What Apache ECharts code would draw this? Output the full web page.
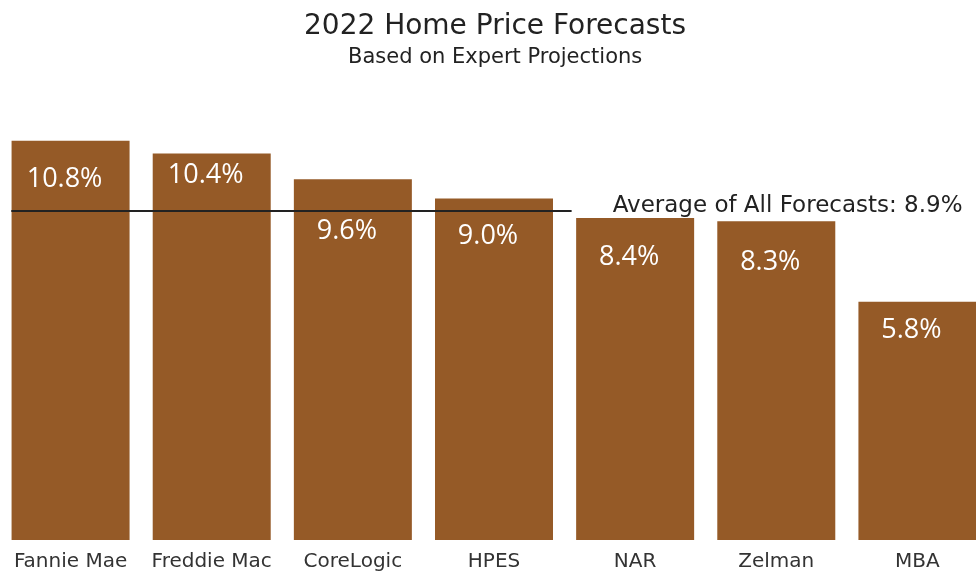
<!DOCTYPE html>
<html>
<head>
<meta charset="utf-8">
<script src="https://cdn.jsdelivr.net/npm/echarts@6/dist/echarts.min.js"></script>
<style>
html,body{margin:0;padding:0;background:#fff}
#main{width:976px;height:571px}
</style>
</head>
<body>
<div id="main"></div>
<script>
var forecasters = ['Fannie Mae', 'Freddie Mac', 'CoreLogic', 'HPES', 'NAR', 'Zelman', 'MBA'];
var forecasts = [10.8, 10.4, 9.6, 9.0, 8.4, 8.3, 5.8];
var chartTitle = '2022 Home Price Forecasts';
var chartSubtitle = 'Based on Expert Projections';
var avgText = 'Average of All Forecasts: 8.9%';
var avgLevel = 8.62; // where the average rule sits on the drawn scale
var avgSpan = [-0.42, 3.55]; // in category units

var fontName = 'DejaVu Sans', barFont = 'Open Sans',
	barColor = '#955a27', textColor = '#222';
// hand tuned label nudges, one per bar
var labelDy = [25, 8, 39, 24, 26, 28, 15];

var myChart = echarts.init(document.getElementById('main'));
var option = {
	animation: false,
	textStyle: { fontFamily: fontName },
	title: [
		{
			text: chartTitle,
			left: 299,
			top: 8,
			textStyle: { fontFamily: fontName, fontSize: 28, fontWeight: 'normal', color: textColor }
		},
		{
			text: chartSubtitle,
			left: 343,
			top: 42,
			textStyle: { fontFamily: fontName, fontSize: 21, fontWeight: 'normal', color: textColor }
		}
	],
	grid: { left: 0, right: -12, top: 102, bottom: 31, containLabel: false, outerBoundsMode: 'none' },
	xAxis: [
		{
			type: 'category',
			data: forecasters,
			axisLine: { show: false },
			axisTick: { show: false },
			axisLabel: { color: '#333', fontSize: 20, margin: 12, interval: 0 }
		},
		{
			type: 'value',
			show: false,
			min: -0.5,
			max: 6.5
		}
	],
	yAxis: {
		type: 'value',
		show: false,
		min: -1.6,
		max: 12,
		startValue: -1.6,
		splitLine: { show: false }
	},
	series: [
		{
			type: 'bar',
			barWidth: 118,
			itemStyle: { color: barColor },
			data: forecasts.map(function (v, i) {
				return {
					value: v,
					label: { offset: [-6, labelDy[i]] }
				};
			}),
			label: {
				show: true,
				position: 'insideTop',
				distance: 0,
				color: '#fff',
				fontFamily: barFont,
				fontSize: 27,
				formatter: function (p) { return p.value.toFixed(1) + '%'; }
			}
		},
		{
			type: 'line',
			xAxisIndex: 1,
			data: [],
			markLine: {
				silent: true,
				symbol: 'none',
				lineStyle: { type: 'solid', color: '#222', width: 2 },
				label: {
					show: true,
					position: 'end',
					distance: 41,
					fontSize: 23,
					lineHeight: 10,
					color: textColor,
					formatter: avgText + '\n '
				},
				data: [[
					{ coord: [avgSpan[0], avgLevel] },
					{ coord: [avgSpan[1], avgLevel] }
				]]
			}
		}
	]
};
myChart.setOption(option);
</script>
</body>
</html>
